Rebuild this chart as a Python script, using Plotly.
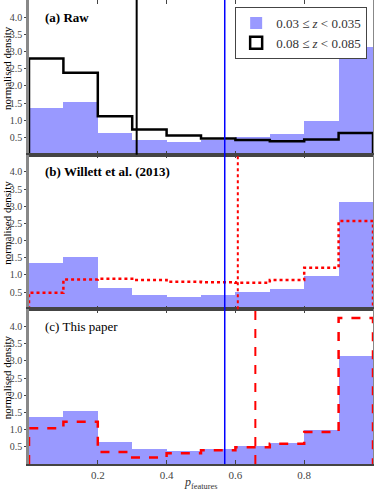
import plotly.graph_objects as go
from plotly.subplots import make_subplots

# bin centres of p_features (10 bins of width 0.1)
bin_centres = [0.05, 0.15, 0.25, 0.35, 0.45, 0.55, 0.65, 0.75, 0.85, 0.95]
bin_edges = [0.0, 0.1, 0.2, 0.3, 0.4, 0.5, 0.6, 0.7, 0.8, 0.9, 1.0]

# low-redshift sample, 0.03 <= z < 0.035 (same in every panel)
low_z = [1.36, 1.53, 0.62, 0.42, 0.37, 0.44, 0.52, 0.60, 0.97, 3.13]
# high-redshift sample, 0.08 <= z < 0.085
raw_high_z = [2.80, 2.38, 1.12, 0.73, 0.56, 0.47, 0.43, 0.39, 0.44, 0.63]
willett_high_z = [0.48, 0.87, 0.89, 0.85, 0.80, 0.79, 0.77, 0.85, 1.21, 2.57]
paper_high_z = [1.04, 1.23, 0.35, 0.19, 0.31, 0.40, 0.49, 0.59, 0.93, 4.25]

# vertical marker lines
blue_cut = 0.569
raw_cut = 0.313
willett_cut = 0.607
paper_cut = 0.658

panel_titles = ["<b>(a) Raw</b>", "<b>(b) Willett et al. (2013)</b>", "(c) This paper"]

FONT = "Liberation Serif"


def step_xy(values):
    xs = [bin_edges[0]] + bin_edges[:-1] + [bin_edges[-1], bin_edges[-1]]
    ys = [0] + values + [values[-1], 0]
    return xs, ys


fig = make_subplots(rows=3, cols=1, shared_xaxes=True, vertical_spacing=0)

for row in (1, 2, 3):
    fig.add_trace(go.Bar(
        x=bin_centres, y=low_z, width=0.1,
        marker=dict(color="rgba(0,0,255,0.4)", line=dict(width=0)),
        name="0.03 ≤ <i>z</i> < 0.035", showlegend=(row == 1),
    ), row=row, col=1)

# legend stand-in for the black outlined patch
fig.add_trace(go.Bar(
    x=[None], y=[None],
    marker=dict(color="white", line=dict(color="black", width=2.5)),
    name="0.08 ≤ <i>z</i> < 0.085", showlegend=True,
), row=1, col=1)

xs, ys = step_xy(raw_high_z)
fig.add_trace(go.Scatter(x=xs, y=ys, mode="lines", line_shape="hv",
                         line=dict(color="black", width=2.5), showlegend=False),
              row=1, col=1)
xs, ys = step_xy(willett_high_z)
fig.add_trace(go.Scatter(x=xs, y=ys, mode="lines", line_shape="hv",
                         line=dict(color="red", width=2.5, dash="dot"), showlegend=False),
              row=2, col=1)
xs, ys = step_xy(paper_high_z)
fig.add_trace(go.Scatter(x=xs, y=ys, mode="lines", line_shape="hv",
                         line=dict(color="red", width=2.5, dash="dash"), showlegend=False),
              row=3, col=1)

fig.add_vline(x=raw_cut, line=dict(color="black", width=2), row=1, col=1)
fig.add_vline(x=willett_cut, line=dict(color="red", width=2, dash="dot"), row=2, col=1)
fig.add_vline(x=paper_cut, line=dict(color="red", width=2, dash="dash"), row=3, col=1)

# blue line across all three panels
fig.add_shape(type="line", xref="x", yref="paper", x0=blue_cut, x1=blue_cut, y0=0, y1=1,
              line=dict(color="blue", width=1.5))

for i, t in enumerate(panel_titles, start=1):
    suffix = str(i) if i > 1 else ""
    fig.add_annotation(text=t, x=0.04, y=4.0, xref="x" + suffix, yref="y" + suffix,
                       xanchor="left", yanchor="middle", showarrow=False,
                       font=dict(family=FONT, size=13, color="black"))
    # y axis label of each panel
    fig.add_annotation(text="normalised density", x=-0.064, y=0.56,
                       xref="paper", yref=f"y{suffix} domain", textangle=-90,
                       xanchor="center", yanchor="middle", showarrow=False,
                       font=dict(family=FONT, size=11, color="black"))

# x axis label
fig.add_annotation(text="<i>p</i><sub>features</sub>", x=0.5, y=0, xref="paper", yref="paper",
                   xanchor="center", yanchor="top", yshift=-9, showarrow=False,
                   font=dict(family=FONT, size=12, color="#333"))

fig.update_xaxes(range=[0, 1], tickvals=[0.2, 0.4, 0.6, 0.8], ticks="inside", ticklen=4,
                 showline=True, linecolor="#444", linewidth=1.5, mirror="allticks",
                 showgrid=False, zeroline=False, automargin=False,
                 tickfont=dict(family=FONT, size=11, color="#444"))

fig.update_yaxes(range=[0, 4.5], tickvals=[0.5, 1.0, 1.5, 2.0, 2.5, 3.0, 3.5, 4.0],
                 ticktext=["0.5", "1.0", "1.5", "2.0", "2.5", "3.0", "3.5", "4.0"],
                 ticks="outside", ticklen=2, showline=True, linecolor="#888", linewidth=2.5,
                 mirror=True, showgrid=False, zeroline=False, automargin=False,
                 tickfont=dict(family=FONT, size=10, color="#444"))

fig.update_layout(
    width=374, height=490,
    margin=dict(l=29, r=1, t=0, b=26),
    plot_bgcolor="white", paper_bgcolor="white",
    barmode="overlay", bargap=0,
    legend=dict(x=0.983, y=0.985, xanchor="right", yanchor="top",
                bordercolor="#444", borderwidth=1, bgcolor="white",
                font=dict(family=FONT, size=13, color="#333"),
                itemwidth=30, tracegroupgap=0),
)

# page has a default body margin; drop it so the figure sits at the window corner
fig.write_html("out.html", config={"displayModeBar": False},
               post_script="document.body.style.margin='0px';")
